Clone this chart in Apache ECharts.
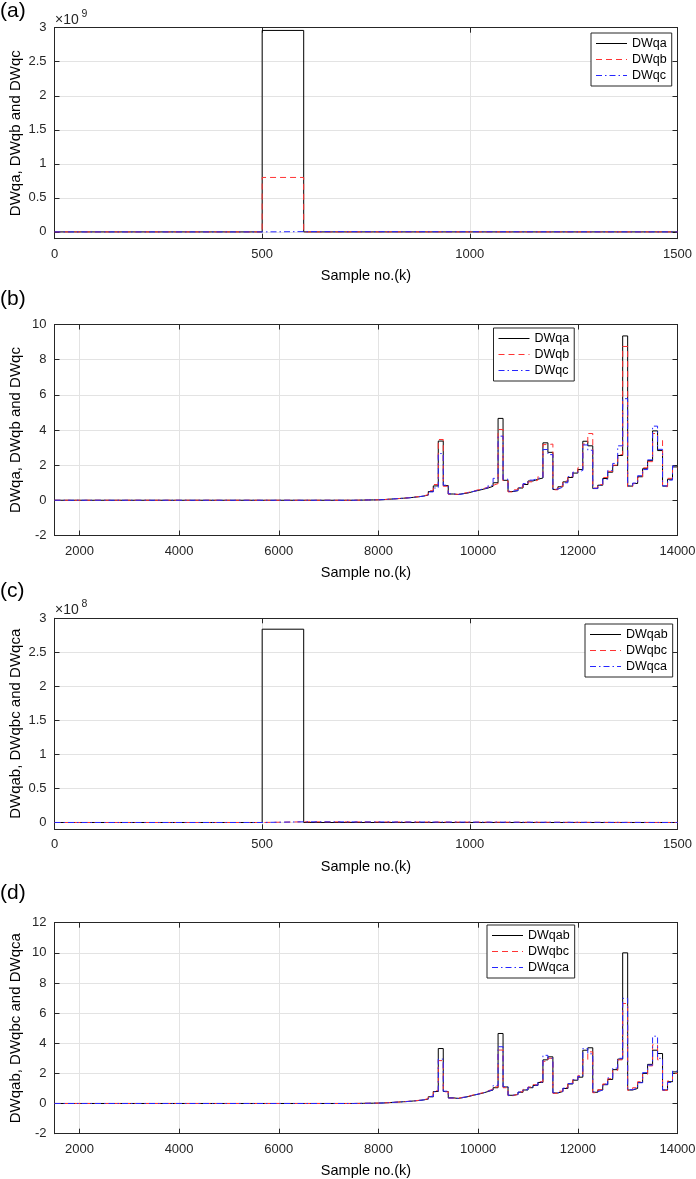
<!DOCTYPE html>
<html>
<head>
<meta charset="utf-8">
<title>DWq per sample</title>
<script src="https://cdn.jsdelivr.net/npm/echarts@6.0.0/dist/echarts.min.js"></script>
<style>
  html, body { margin: 0; padding: 0; background: #fff; }
  #chart { width: 696px; height: 1179px; }
</style>
</head>
<body>
<div id="chart"></div>
<script>
// ---- data ----
// panels (a) and (c): samples 0..1500, stair edges + value held from each edge
const shortEdges = [0, 500, 600, 1500]
const aDWqa = [0, 2.96e9, 0, 0]
const aDWqb = [0, 0.8e9, 0, 0]
const aDWqc = [0, 0.004e9, 0, 0]
const cDWqab = [0, 2.84e8, 0, 0]
const cDWqbc = [0, 0.01e8, 0, 0]
const cDWqca = [0, 0.01e8, 0, 0]

// panels (b) and (d): samples 1500..14000, 100-sample blocks
const longEdges = [1500,
  7500, 7600, 7700, 7800, 7900,
  8000, 8100, 8200, 8300, 8400, 8500, 8600, 8700, 8800, 8900,
  9000, 9100, 9200, 9300, 9400, 9500, 9600, 9700, 9800, 9900,
  10000, 10100, 10200, 10300, 10400, 10500, 10600, 10700, 10800, 10900,
  11000, 11100, 11200, 11300, 11400, 11500, 11600, 11700, 11800, 11900,
  12000, 12100, 12200, 12300, 12400, 12500, 12600, 12700, 12800, 12900,
  13000, 13100, 13200, 13300, 13400, 13500, 13600, 13700, 13800, 13900]

const bDWqa = [0.005,
  0.01, 0.015, 0.02, 0.025, 0.03,
  0.04, 0.06, 0.08, 0.1, 0.12, 0.14, 0.17, 0.2, 0.24, 0.3,
  0.5, 0.82, 3.37, 0.84, 0.36, 0.33, 0.38, 0.42, 0.5, 0.56,
  0.63, 0.7, 0.8, 1.0, 4.66, 1.14, 0.5, 0.55, 0.7, 0.9,
  1.1, 1.2, 1.27, 3.27, 2.73, 0.62, 0.77, 1.05, 1.3, 1.55,
  1.75, 3.36, 3.1, 0.67, 0.86, 1.24, 1.6, 1.98, 2.55, 9.35,
  0.81, 0.96, 1.34, 1.8, 2.26, 3.95, 2.83, 0.81, 1.2, 1.9]
const bDWqb = [0.005,
  0.01, 0.015, 0.02, 0.025, 0.03,
  0.04, 0.06, 0.08, 0.1, 0.12, 0.15, 0.18, 0.21, 0.25, 0.32,
  0.55, 0.9, 3.46, 0.8, 0.35, 0.34, 0.4, 0.45, 0.52, 0.6,
  0.66, 0.75, 0.85, 0.95, 4.03, 1.1, 0.48, 0.6, 0.75, 0.92,
  1.05, 1.15, 1.35, 3.17, 3.2, 0.6, 0.8, 1.1, 1.35, 1.6,
  1.85, 3.2, 3.8, 0.7, 0.9, 1.3, 1.65, 2.0, 2.6, 8.75,
  0.78, 0.95, 1.3, 1.85, 2.2, 3.8, 3.4, 0.78, 1.25, 1.85]
const bDWqc = [0.005,
  0.01, 0.015, 0.02, 0.025, 0.03,
  0.04, 0.06, 0.08, 0.1, 0.12, 0.14, 0.17, 0.2, 0.24, 0.3,
  0.48, 0.7, 2.66, 0.86, 0.37, 0.33, 0.37, 0.44, 0.5, 0.58,
  0.65, 0.72, 0.85, 1.25, 3.65, 1.2, 0.52, 0.56, 0.72, 0.95,
  1.15, 1.25, 1.3, 2.89, 2.6, 0.64, 0.75, 1.0, 1.35, 1.6,
  1.7, 3.15, 2.85, 0.68, 0.85, 1.2, 1.7, 2.1, 3.1, 5.78,
  0.83, 0.98, 1.4, 1.75, 2.3, 4.22, 2.9, 0.82, 1.15, 1.95]

const dDWqab = [0.005,
  0.01, 0.015, 0.02, 0.025, 0.03,
  0.04, 0.06, 0.08, 0.1, 0.12, 0.14, 0.17, 0.2, 0.24, 0.3,
  0.45, 0.8, 3.65, 0.8, 0.38, 0.34, 0.4, 0.46, 0.55, 0.62,
  0.7, 0.8, 0.9, 1.05, 4.65, 1.1, 0.55, 0.6, 0.75, 0.9,
  1.05, 1.2, 1.4, 2.9, 3.1, 0.7, 0.8, 1.0, 1.3, 1.55,
  1.75, 3.54, 3.7, 0.75, 0.9, 1.25, 1.6, 2.25, 2.95, 10.0,
  0.9, 1.0, 1.4, 2.0, 2.6, 3.54, 3.32, 0.9, 1.45, 2.1]
const dDWqbc = [0.005,
  0.01, 0.015, 0.02, 0.025, 0.03,
  0.04, 0.06, 0.08, 0.1, 0.12, 0.15, 0.18, 0.21, 0.25, 0.32,
  0.5, 0.85, 2.85, 0.78, 0.36, 0.35, 0.42, 0.48, 0.57, 0.65,
  0.72, 0.85, 0.95, 1.1, 3.55, 1.05, 0.52, 0.62, 0.78, 0.95,
  1.1, 1.25, 1.45, 2.8, 3.0, 0.68, 0.82, 1.05, 1.35, 1.6,
  1.85, 2.9, 3.43, 0.72, 0.92, 1.3, 1.65, 2.2, 2.9, 6.64,
  0.88, 1.05, 1.45, 1.95, 2.5, 3.9, 2.9, 0.88, 1.5, 2.0]
const dDWqca = [0.005,
  0.01, 0.015, 0.02, 0.025, 0.03,
  0.04, 0.06, 0.08, 0.1, 0.12, 0.14, 0.17, 0.2, 0.24, 0.3,
  0.46, 0.78, 2.95, 0.82, 0.37, 0.34, 0.4, 0.47, 0.55, 0.63,
  0.7, 0.82, 0.92, 1.2, 3.77, 1.12, 0.55, 0.6, 0.76, 0.92,
  1.08, 1.22, 1.42, 3.2, 3.0, 0.72, 0.8, 1.02, 1.32, 1.58,
  1.8, 3.65, 3.3, 0.78, 0.9, 1.28, 1.7, 2.35, 3.0, 6.98,
  0.92, 1.02, 1.38, 2.05, 2.55, 4.47, 3.0, 0.9, 1.4, 2.15]

// tick labels
const shortXTicks = [0, 500, 1000, 1500]
const longXTicks = [2000, 4000, 6000, 8000, 10000, 12000, 14000]
const aYTicks = [0, 0.5e9, 1e9, 1.5e9, 2e9, 2.5e9, 3e9]
const cYTicks = [0, 0.5e8, 1e8, 1.5e8, 2e8, 2.5e8, 3e8]
const bYTicks = [-2, 0, 2, 4, 6, 8, 10]
const dYTicks = [-2, 0, 2, 4, 6, 8, 10, 12]

// ---- layout / style ----
const FONT = '"Liberation Sans", Arial, Helvetica, sans-serif'
const AXIS_COLOR = '#262626'
const GRID_COLOR = '#e3e3e3'
const STYLES = [
  { color: '#000000', type: 'solid' },
  { color: '#ff3333', type: [6, 4] },
  { color: '#2626ff', type: [6, 3, 1.5, 3] }
]

const panels = [
  { tag: '(a)', tagY: 13, top: 27.7, xMin: 0, xMax: 1500, xTicks: shortXTicks, yMin: -0.1e9, yMax: 3e9, yTicks: aYTicks, scale: 1e9, exp: '9',
    yName: 'DWqa, DWqb and DWqc', edges: shortEdges, endX: 1500, names: ['DWqa', 'DWqb', 'DWqc'], values: [aDWqa, aDWqb, aDWqc], legend: [591, 33] },
  { tag: '(b)', tagY: 301, top: 324.5, xMin: 1500, xMax: 14000, xTicks: longXTicks, yMin: -2, yMax: 10, yTicks: bYTicks, scale: 1,
    yName: 'DWqa, DWqb and DWqc', edges: longEdges, endX: 14000, names: ['DWqa', 'DWqb', 'DWqc'], values: [bDWqa, bDWqb, bDWqc], legend: [493.5, 328] },
  { tag: '(c)', tagY: 592.5, top: 618.3, xMin: 0, xMax: 1500, xTicks: shortXTicks, yMin: -0.1e8, yMax: 3e8, yTicks: cYTicks, scale: 1e8, exp: '8',
    yName: 'DWqab, DWqbc and DWqca', edges: shortEdges, endX: 1500, names: ['DWqab', 'DWqbc', 'DWqca'], values: [cDWqab, cDWqbc, cDWqca], legend: [585, 624] },
  { tag: '(d)', tagY: 895, top: 922.7, xMin: 1500, xMax: 14000, xTicks: longXTicks, yMin: -2, yMax: 12, yTicks: dYTicks, scale: 1,
    yName: 'DWqab, DWqbc and DWqca', edges: longEdges, endX: 14000, names: ['DWqab', 'DWqbc', 'DWqca'], values: [dDWqab, dDWqbc, dDWqca], legend: [487, 925] }
]

function stairs(xs, ys, endX) {
  const pts = xs.map((x, k) => [x, ys[k]])
  pts.push([endX, ys[ys.length - 1]])
  return pts
}

const tickStyle = ticks => ({ inside: true, length: 5, customValues: ticks, lineStyle: { color: AXIS_COLOR } })
const lineStyle = { onZero: false, lineStyle: { color: AXIS_COLOR, width: 1 } }

const grid = [], xAxis = [], yAxis = [], series = [], legend = [], graphic = []
panels.forEach((p, i) => {
  grid.push({ left: 54.5, width: 623, top: p.top, height: 211, outerBoundsMode: 'none' })

  xAxis.push({
    type: 'value', gridIndex: i, position: 'bottom', min: p.xMin, max: p.xMax,
    name: 'Sample no.(k)', nameLocation: 'middle', nameGap: 30, nameMoveOverlap: false,
    nameTextStyle: { fontSize: 14.5, color: '#000', fontFamily: FONT },
    axisLine: lineStyle, axisTick: tickStyle(p.xTicks),
    axisLabel: { customValues: p.xTicks, margin: 9, fontSize: 13, color: AXIS_COLOR, fontFamily: FONT,
      formatter: v => String(v) },
    splitLine: { show: true, lineStyle: { color: GRID_COLOR, width: 1 } }
  })
  xAxis.push({
    type: 'value', gridIndex: i, position: 'top', min: p.xMin, max: p.xMax,
    axisLine: lineStyle, axisTick: tickStyle(p.xTicks), axisLabel: { show: false }, splitLine: { show: false }
  })

  yAxis.push({
    type: 'value', gridIndex: i, position: 'left', min: p.yMin, max: p.yMax,
    name: p.yName, nameLocation: 'middle', nameGap: 31, nameMoveOverlap: false,
    nameTextStyle: { fontSize: 15, color: '#000', fontFamily: FONT },
    axisLine: lineStyle, axisTick: tickStyle(p.yTicks),
    axisLabel: { customValues: p.yTicks, margin: 8, fontSize: 13, color: AXIS_COLOR, fontFamily: FONT,
      formatter: v => String(+(v / p.scale).toFixed(2)) },
    splitLine: { show: true, lineStyle: { color: GRID_COLOR, width: 1 } }
  })
  yAxis.push({
    type: 'value', gridIndex: i, position: 'right', min: p.yMin, max: p.yMax,
    axisLine: lineStyle, axisTick: tickStyle(p.yTicks), axisLabel: { show: false }, splitLine: { show: false }
  })

  // series names carry the panel tag so each legend box maps to its own panel
  const ids = p.names.map(n => n + ' ' + p.tag)
  p.names.forEach((name, k) => {
    series.push({
      name: ids[k], type: 'line', step: 'end', xAxisIndex: 2 * i, yAxisIndex: 2 * i,
      data: stairs(p.edges, p.values[k], p.endX),
      symbol: 'none', showSymbol: false, animation: false,
      lineStyle: { color: STYLES[k].color, type: STYLES[k].type, width: 1 },
      itemStyle: { color: STYLES[k].color },
      z: 2 + k
    })
  })

  legend.push({
    data: ids.map((id, k) => ({
      name: id,
      lineStyle: { color: STYLES[k].color, type: STYLES[k].type, width: 1 },
      itemStyle: { color: 'rgba(0,0,0,0)', borderColor: 'rgba(0,0,0,0)', borderWidth: 0 }
    })),
    formatter: n => n.split(' ')[0],
    orient: 'vertical', left: p.legend[0], top: p.legend[1],
    padding: [4, 5, 4, 4.5], itemWidth: 31, itemHeight: 14, itemGap: 3,
    borderColor: AXIS_COLOR, borderWidth: 1, borderRadius: 0, backgroundColor: '#fff',
    textStyle: { fontSize: 12.5, color: '#000', fontFamily: FONT },
    selectedMode: false
  })

  graphic.push({ type: 'text', left: 0, top: p.tagY - 12, style: { text: p.tag, fontSize: 21, fontFamily: FONT, fill: '#000' } })
  if (p.exp) {
    graphic.push({ type: 'text', left: 55, top: p.top - 15, style: { text: '×10', fontSize: 14, fontFamily: FONT, fill: AXIS_COLOR } })
    graphic.push({ type: 'text', left: 81.5, top: p.top - 19.5, style: { text: p.exp, fontSize: 10.5, fontFamily: FONT, fill: AXIS_COLOR } })
  }
})

const myChart = echarts.init(document.getElementById('chart'), null, { renderer: 'canvas' })
myChart.setOption({
  animation: false,
  backgroundColor: '#fff',
  grid, xAxis, yAxis, series, legend, graphic
})
</script>
</body>
</html>
